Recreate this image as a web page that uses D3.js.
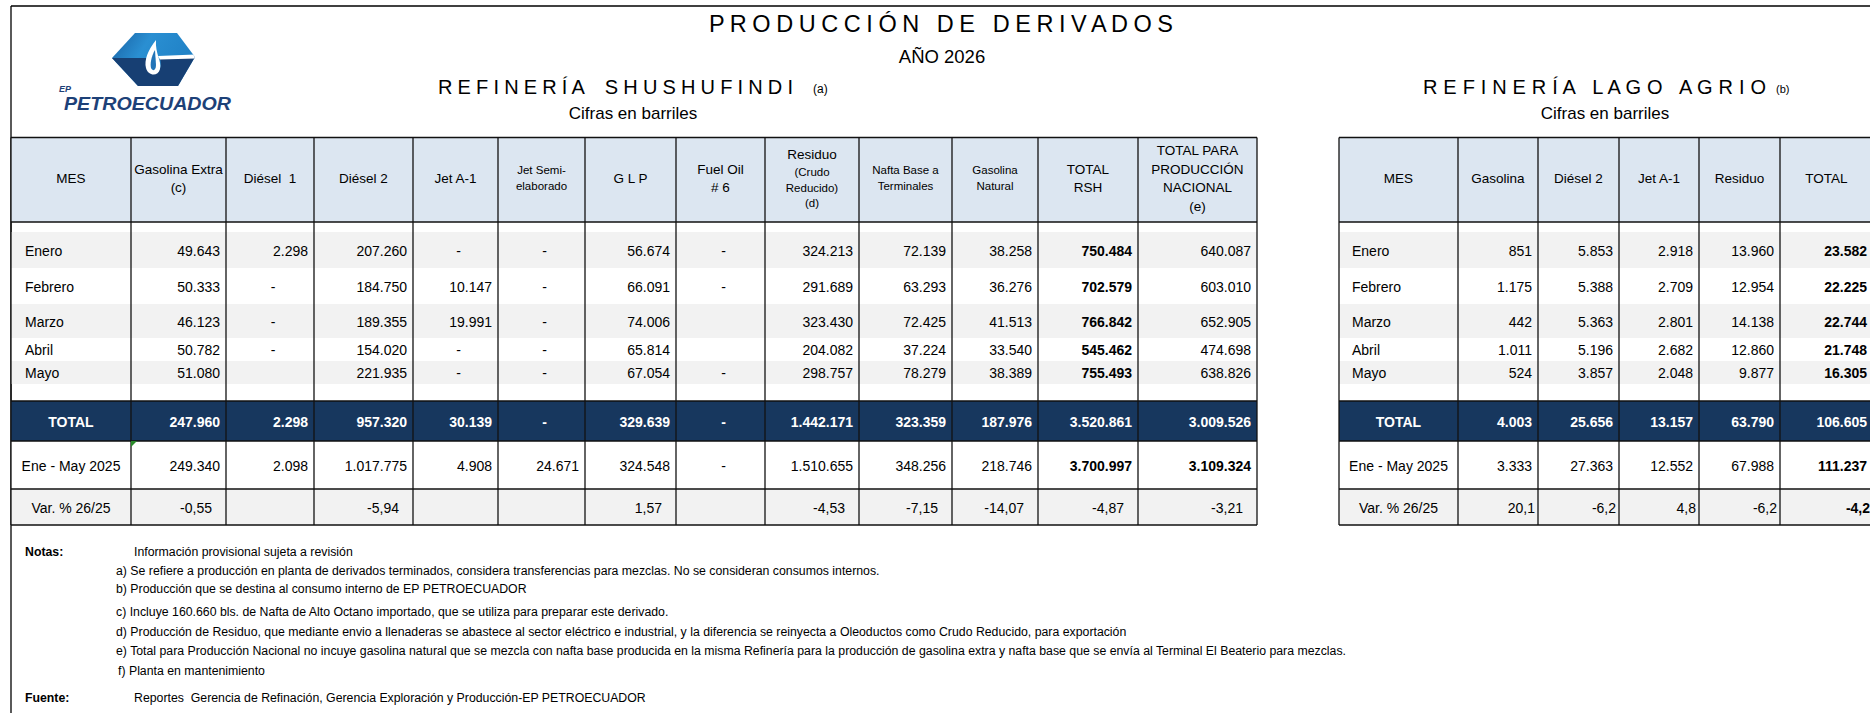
<!DOCTYPE html>
<html>
<head>
<meta charset="utf-8">
<script src="https://cdn.jsdelivr.net/npm/d3@7"></script>
<style>
body { margin: 0; background: #fff; }
text { font-family: "Liberation Sans", Arial, sans-serif; fill: #000; }
</style>
</head>
<body>
<script>
// ---- data ----
const months = ["Enero", "Febrero", "Marzo", "Abril", "Mayo"];
const rowLabels = ["TOTAL", "Ene - May 2025", "Var. % 26/25"];

// Refinería Shushufindi (0 = "-", null = empty cell)
const shHeaders = [["MES"], ["Gasolina Extra", "(c)"], ["Diésel  1"], ["Diésel 2"], ["Jet A-1"],
  ["Jet Semi-", "elaborado"], ["G L P"], ["Fuel Oil", "# 6"], ["Residuo", "(Crudo", "Reducido)", "(d)"],
  ["Nafta Base a", "Terminales"], ["Gasolina", "Natural"], ["TOTAL", "RSH"],
  ["TOTAL PARA", "PRODUCCIÓN", "NACIONAL", "(e)"]];
const shGasolinaExtra = [49643, 50333, 46123, 50782, 51080];
const shDiesel1 = [2298, 0, 0, 0, null];
const shDiesel2 = [207260, 184750, 189355, 154020, 221935];
const shJetA1 = [0, 10147, 19991, 0, 0];
const shJetSemi = [0, 0, 0, 0, 0];
const shGlp = [56674, 66091, 74006, 65814, 67054];
const shFuelOil = [0, 0, null, null, 0];
const shResiduo = [324213, 291689, 323430, 204082, 298757];
const shNafta = [72139, 63293, 72425, 37224, 78279];
const shGasNatural = [38258, 36276, 41513, 33540, 38389];
const shTotalRsh = [750484, 702579, 766842, 545462, 755493];
const shTotalNac = [640087, 603010, 652905, 474698, 638826];
const shTotal = [247960, 2298, 957320, 30139, 0, 329639, 0, 1442171, 323359, 187976, 3520861, 3009526];
const shPrev = [249340, 2098, 1017775, 4908, 24671, 324548, 0, 1510655, 348256, 218746, 3700997, 3109324];
const shVar = [-0.55, null, -5.94, null, null, 1.57, null, -4.53, -7.15, -14.07, -4.87, -3.21];

// Refinería Lago Agrio
const laHeaders = [["MES"], ["Gasolina"], ["Diésel 2"], ["Jet A-1"], ["Residuo"], ["TOTAL"]];
const laGasolina = [851, 1175, 442, 1011, 524];
const laDiesel2 = [5853, 5388, 5363, 5196, 3857];
const laJetA1 = [2918, 2709, 2801, 2682, 2048];
const laResiduo = [13960, 12954, 14138, 12860, 9877];
const laTotalMes = [23582, 22225, 22744, 21748, 16305];
const laTotal = [4003, 25656, 13157, 63790, 106605];
const laPrev = [3333, 27363, 12552, 67988, 111237];
const laVar = [20.1, -6.2, 4.8, -6.2, -4.2];

const notes = [
  "Información provisional sujeta a revisión",
  "a) Se refiere a producción en planta de derivados terminados, considera transferencias para mezclas. No se consideran consumos internos.",
  "b) Producción que se destina al consumo interno de EP PETROECUADOR",
  "c) Incluye 160.660 bls. de Nafta de Alto Octano importado, que se utiliza para preparar este derivado.",
  "d) Producción de Residuo, que mediante envio a llenaderas se abastece al sector eléctrico e industrial, y la diferencia se reinyecta a Oleoductos como Crudo Reducido, para exportación",
  "e) Total para Producción Nacional no incuye gasolina natural que se mezcla con nafta base producida en la misma Refinería para la producción de gasolina extra y nafta base que se envía al Terminal El Beaterio para mezclas.",
  "f) Planta en mantenimiento"
];
const fuente = "Reportes  Gerencia de Refinación, Gerencia Exploración y Producción-EP PETROECUADOR";

// ---- layout ----
const W = 1870, H = 713;
const headTop = 137.5, headBottom = 222, tableBottom = 525;
const rowKeys = months.concat(["total", "prev", "var"]);
const rowTops = [232, 268, 304, 338, 361, 401, 441, 489];
const rowEnds = rowTops.slice(1).concat([tableBottom]);
rowEnds[4] = 384;
const y = d3.scaleOrdinal().domain(rowKeys).range(rowTops);
const yEnd = d3.scaleOrdinal().domain(rowKeys).range(rowEnds);
const rowFill = d3.scaleOrdinal().domain(rowKeys)
  .range(["#f2f2f2", "#ffffff", "#f2f2f2", "#ffffff", "#f2f2f2", "#17375e", "#ffffff", "#f2f2f2"]);

const loc = d3.formatLocale({decimal: ",", thousands: ".", grouping: [3], currency: ["", ""], minus: "-"});
const fInt = loc.format(",d");

function hasFont(name) {
  const c = document.createElement("canvas").getContext("2d");
  c.font = "40px monospace";
  const a = c.measureText("abcdefghijklmn").width;
  c.font = `40px "${name}", monospace`;
  return c.measureText("abcdefghijklmn").width !== a;
}
const narrow = hasFont("Liberation Sans Narrow");
const narrowFamily = narrow ? '"Liberation Sans Narrow"' : '"Liberation Sans"';

const svg = d3.select("body").append("svg").attr("width", W).attr("height", H);

// outer frame
svg.append("line").attr("x1", 11).attr("x2", W).attr("y1", 6).attr("y2", 6).attr("stroke", "#000").attr("stroke-width", 1.3);
svg.append("line").attr("x1", 11).attr("x2", 11).attr("y1", 6).attr("y2", H).attr("stroke", "#000").attr("stroke-width", 1.3);

// titles
function title(s, x, yy, size, len, fam) {
  const t = svg.append("text").attr("x", x).attr("y", yy).attr("dy", "0.35em")
    .style("font-size", size + "px").style("white-space", "pre").text(s);
  if (fam) t.style("font-family", fam);
  if (len) t.attr("textLength", len).attr("lengthAdjust", "spacing");
  return t;
}
const bigSize = narrow ? 26 : 23.5;
const subSize = narrow ? 22 : 20;
title("P R O D U C C I Ó N   D E   D E R I V A D O S", 709, 24, bigSize, 464, narrowFamily);
title("AÑO 2026", 942, 57, 18.5).attr("text-anchor", "middle");
title("R E F I N E R Í A    S H U S H U F I N D I", 438, 87, subSize, 355, narrowFamily);
title("(a)", 813, 89, 12);
title("Cifras en barriles", 633, 113, 17).attr("text-anchor", "middle");
title("R E F I N E R Í A   L A G O   A G R I O", 1423, 87, subSize, 343, narrowFamily);
title("(b)", 1776, 89, 11);
title("Cifras en barriles", 1605, 113, 17).attr("text-anchor", "middle");

// logo
const defs = svg.append("defs");
const logo = svg.append("g");
const hex = "M135,33 L177,33 L195,57 L178,86 L138,86 L112,58 Z";
defs.append("clipPath").attr("id", "hexclip").append("path").attr("d", hex);
const grad = defs.append("linearGradient").attr("id", "lgrad").attr("x1", 0).attr("y1", 0).attr("x2", 1).attr("y2", 0.4);
grad.append("stop").attr("offset", 0).attr("stop-color", "#15589a");
grad.append("stop").attr("offset", 0.45).attr("stop-color", "#2a8fd2");
grad.append("stop").attr("offset", 1).attr("stop-color", "#1e7fc4");
const lg = logo.append("g").attr("clip-path", "url(#hexclip)");
lg.append("rect").attr("x", 105).attr("y", 30).attr("width", 95).attr("height", 60).attr("fill", "url(#lgrad)");
lg.append("path").attr("d", "M105,58 L147,58 C146,66 149,73 154,73 C160,73 162,66 160,58 L200,57 L200,90 L105,90 Z")
  .attr("fill", "#173f73");
lg.append("path").attr("d", "M158,56 L198,54.5 L198,58.5 L160,59.5 Z").attr("fill", "#fff");
logo.append("path").attr("d", "M156,40 C148,50 144,60 146,68 C148,76 158,77 160,69 C162,61 155,54 156,40 Z").attr("fill", "#fff");
logo.append("path").attr("d", "M155,50 C151,57 150,64 151,68 C153,72 156,70 156,65 Z").attr("fill", "#2274b8");
logo.append("text").attr("x", 64).attr("y", 110).style("font-size", "18px").style("font-weight", "bold")
  .style("font-style", "italic").style("fill", "#1d4178").attr("textLength", 167).attr("lengthAdjust", "spacingAndGlyphs")
  .text("PETROECUADOR");
logo.append("text").attr("x", 59).attr("y", 92).style("font-size", "9px").style("font-weight", "bold")
  .style("font-style", "italic").style("fill", "#1d4178").text("EP");

// ---- tables ----
function cellText(g, s, x, yy, anchor, bold, color) {
  g.append("text").attr("x", x).attr("y", yy).attr("dy", "0.35em").attr("text-anchor", anchor)
    .style("font-size", "14px").style("font-weight", bold ? "bold" : "normal").style("fill", color || "#000")
    .style("white-space", "pre").text(s);
}

function drawTable(cfg) {
  const g = svg.append("g");
  const cols = d3.range(cfg.headers.length);
  const x = d3.scaleOrdinal().domain(cols).range(cfg.edges.slice(0, -1));
  const w = d3.scaleOrdinal().domain(cols).range(d3.pairs(cfg.edges).map(p => p[1] - p[0]));
  const x0 = cfg.edges[0], x1 = cfg.edges[cfg.edges.length - 1];

  g.append("rect").attr("x", x0).attr("y", headTop).attr("width", x1 - x0).attr("height", headBottom - headTop).attr("fill", "#dce6f1");
  g.selectAll("rect.band").data(rowKeys).join("rect").attr("class", "band")
    .attr("x", x0).attr("y", d => y(d)).attr("width", x1 - x0).attr("height", d => yEnd(d) - y(d))
    .attr("fill", d => rowFill(d));

  // header labels
  cols.forEach(i => {
    const lines = cfg.headers[i];
    const sizes = lines.map((l, j) => cfg.headSize(i, j));
    const lh = sizes.map(s => s * 1.38);
    let cy = (headTop + headBottom) / 2 - d3.sum(lh) / 2 - 1.5;
    lines.forEach((l, j) => {
      g.append("text").attr("x", x(i) + w(i) / 2).attr("y", cy + lh[j] / 2).attr("dy", "0.35em")
        .attr("text-anchor", "middle").style("font-size", sizes[j] + "px").style("white-space", "pre").text(l);
      cy += lh[j];
    });
  });

  const mid = k => (y(k) + yEnd(k)) / 2 + 1;
  function value(i, v, k, pad, fmt, bold, color) {
    if (v === null || v === undefined) return;
    if (v === 0) cellText(g, "-", x(i) + w(i) / 2 + 3, mid(k), "middle", bold, color);
    else cellText(g, fmt(v), x(i) + w(i) - pad, mid(k), "end", bold, color);
  }

  months.forEach((m, r) => {
    cellText(g, m, x0 + cfg.labelPad, mid(m), "start");
    cfg.series.forEach((s, c) => value(c + 1, s[r], m, 6, fInt, cfg.boldMonth(c)));
  });
  cellText(g, rowLabels[0], x0 + w(0) / 2, mid("total"), "middle", true, "#fff");
  cellText(g, rowLabels[1], x0 + w(0) / 2, mid("prev"), "middle");
  cellText(g, rowLabels[2], x0 + w(0) / 2, mid("var"), "middle");
  cfg.total.forEach((v, c) => value(c + 1, v, "total", 6, fInt, true, "#fff"));
  cfg.prev.forEach((v, c) => value(c + 1, v, "prev", 6, fInt, cfg.boldPrev(c)));
  cfg.vars.forEach((v, c) => value(c + 1, v, "var", cfg.varPad, cfg.varFmt, cfg.boldVar(c)));

  // grid lines
  const stroke = l => l.attr("stroke", "#111").attr("stroke-width", 1.3);
  [headTop, headBottom, y("total"), y("prev"), y("var"), tableBottom].forEach(yy =>
    stroke(g.append("line").attr("x1", x0).attr("x2", x1).attr("y1", yy).attr("y2", yy)));
  cfg.edges.forEach(xx =>
    stroke(g.append("line").attr("x1", xx).attr("x2", xx).attr("y1", headTop).attr("y2", tableBottom)));
  return {g, x, w};
}

const sh = drawTable({
  edges: [11, 131, 226, 314, 413, 498, 585, 676, 765, 859, 952, 1038, 1138, 1257],
  headers: shHeaders,
  headSize: (i, j) => (i === 5 || i === 9 || i === 10 || (i === 8 && j > 0)) ? 11.5 : 13.5,
  series: [shGasolinaExtra, shDiesel1, shDiesel2, shJetA1, shJetSemi, shGlp, shFuelOil, shResiduo,
    shNafta, shGasNatural, shTotalRsh, shTotalNac],
  total: shTotal, prev: shPrev, vars: shVar,
  labelPad: 14, varPad: 14, varFmt: loc.format(".2f"),
  boldMonth: c => c === 10, boldPrev: c => c >= 10, boldVar: c => false
});
// small green marker in the 2025 row
sh.g.append("path").attr("d", d3.line()([[sh.x(1), y("prev")], [sh.x(1) + 6, y("prev")], [sh.x(1), y("prev") + 6]]))
  .attr("fill", "#2a8a2a");

drawTable({
  edges: [1339, 1458, 1538, 1619, 1699, 1780, 1873],
  headers: laHeaders,
  headSize: () => 13.5,
  series: [laGasolina, laDiesel2, laJetA1, laResiduo, laTotalMes],
  total: laTotal, prev: laPrev, vars: laVar,
  labelPad: 13, varPad: 3, varFmt: loc.format(".1f"),
  boldMonth: c => c === 4, boldPrev: c => c === 4, boldVar: c => c === 4
});

// ---- notes ----
const noteX = [134, 116, 116, 116, 116, 116, 118];
const noteY = [552, 571, 589, 612, 632, 651, 671];
const notesSize = narrow ? 14.8 : 12.3;
function noteText(s, x, yy, bold) {
  return svg.append("text").attr("x", x).attr("y", yy).attr("dy", "0.35em")
    .style("font-family", narrowFamily).style("font-size", notesSize + "px")
    .style("font-weight", bold ? "bold" : "normal").style("white-space", "pre").text(s);
}
noteText("Notas:", 25, noteY[0], true);
notes.forEach((s, i) => noteText(s, noteX[i], noteY[i]));
noteText("Fuente:", 25, 698, true);
noteText(fuente, 134, 698);
</script>
</body>
</html>
